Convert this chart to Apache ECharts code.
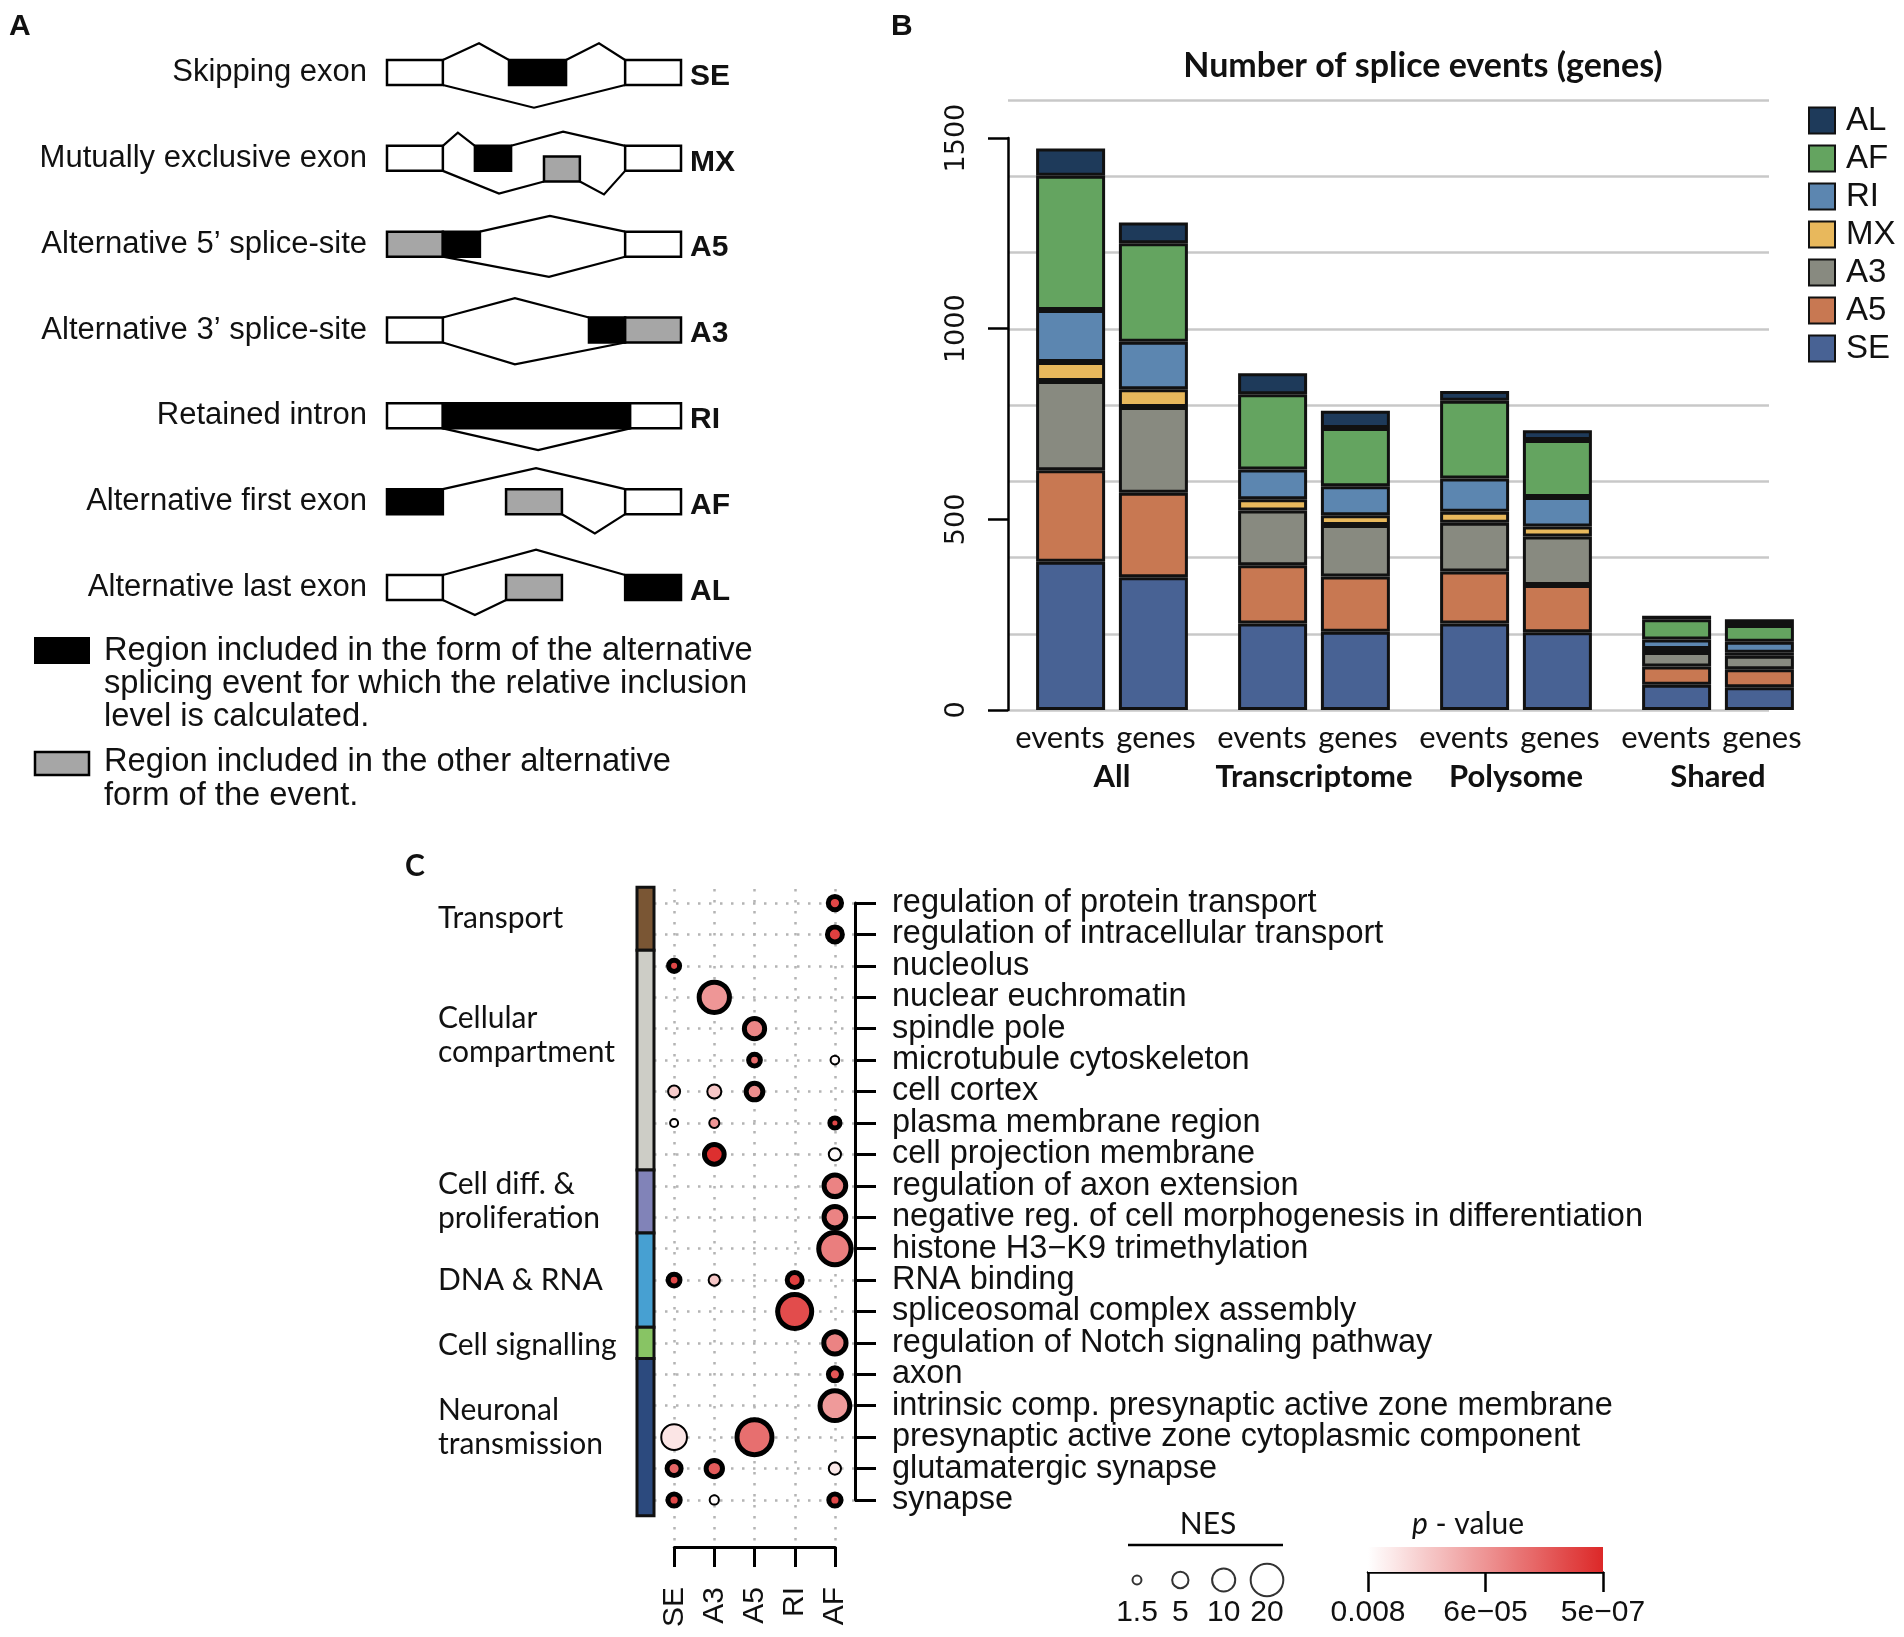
<!DOCTYPE html>
<html><head><meta charset="utf-8">
<script src="https://cdn.jsdelivr.net/npm/echarts@6/dist/echarts.min.js"></script>
<style>html,body{margin:0;padding:0;background:#fff}#main{width:1904px;height:1637px}</style>
</head><body><div id="main"></div>
<script>
// ================= Panel A : splice event schematic =================
const schemNames = ['Skipping exon','Mutually exclusive exon','Alternative 5\u2019 splice-site','Alternative 3\u2019 splice-site','Retained intron','Alternative first exon','Alternative last exon'];
const schemCodes = ['SE','MX','A5','A3','RI','AF','AL'];
// exon blocks in schematic units: [start, end, fill(w/k/g), vertical shift]
const schemExons = [
  [[0,19,'w',0],[41.5,60.9,'k',0],[81,100,'w',0]],
  [[0,19,'w',0],[29.9,42.2,'k',0],[53.4,65.6,'g',0.125],[81,100,'w',0]],
  [[0,19,'g',0],[19,31.6,'k',0],[81,100,'w',0]],
  [[0,19,'w',0],[68.7,81,'k',0],[81,100,'g',0]],
  [[0,19,'w',0],[19,82.7,'k',0],[82.7,100,'w',0]],
  [[0,19,'k',0],[40.5,59.5,'g',0],[81,100,'w',0]],
  [[0,19,'w',0],[40.5,59.5,'g',0],[81,100,'k',0]]
];
const H = 0.146;
const schemJunctions = [
  [[[19,-H],[31.3,-0.34],[41.5,-H]],[[60.9,-H],[72.1,-0.34],[81,-H]],[[19,H],[50,0.41],[81,H]]],
  [[[19,-H],[24.1,-0.30],[29.9,-H]],[[42.2,-H],[59.9,-0.31],[81,-H]],[[19,H],[38.1,0.41],[53.4,0.27]],[[65.6,0.27],[73.8,0.42],[81,H]]],
  [[[31.6,-H],[55.4,-0.33],[81,-H]],[[19,H],[55.1,0.38],[81,H]]],
  [[[19,-H],[43.5,-0.37],[68.7,-H]],[[19,H],[43.5,0.40],[81,H]]],
  [[[19,H],[51.4,0.40],[82.7,H]]],
  [[[19,-H],[50.7,-0.39],[81,-H]],[[59.5,H],[70.7,0.37],[81,H]]],
  [[[19,-H],[50.7,-0.44],[81,-H]],[[19,H],[29.9,0.32],[40.5,H]]]
];

// ================= Panel B : number of splice events =================
const groupsB = ['All','Transcriptome','Polysome','Shared'];
const typesB = ['SE','A5','A3','MX','RI','AF','AL'];
const seEvents = [389,227,227,66],  seGenes = [348,205,204,60];
const a5Events = [240,153,136,48],  a5Genes = [222,145,124,47];
const a3Events = [234,143,128,38],  a3Genes = [225,135,127,35];
const mxEvents = [50,30,29,8],      mxGenes = [46,26,26,8];
const riEvents = [136,78,87,25],    riGenes = [125,76,78,29];
const afEvents = [352,197,204,53],  afGenes = [258,153,149,44];
const alEvents = [72,55,26,9],      alGenes = [55,45,26,15];
const legendOrderB = ['AL','AF','RI','MX','A3','A5','SE'];

// ================= Panel C : GO enrichment bubbles =================
const goTerms = ['regulation of protein transport','regulation of intracellular transport','nucleolus','nuclear euchromatin','spindle pole','microtubule cytoskeleton','cell cortex','plasma membrane region','cell projection membrane','regulation of axon extension','negative reg. of cell morphogenesis in differentiation','histone H3\u2212K9 trimethylation','RNA binding','spliceosomal complex assembly','regulation of Notch signaling pathway','axon','intrinsic comp. presynaptic active zone membrane','presynaptic active zone cytoplasmic component','glutamatergic synapse','synapse'];
const goGroupNames = ['Transport','Cellular\ncompartment','Cell diff. &\nproliferation','DNA & RNA','Cell signalling','Neuronal\ntransmission'];
const goGroupSizes = [2,7,2,3,1,5];
const typesC = ['SE','A3','A5','RI','AF'];
const bubbleTerm = [0,1,2,3,4,5,5,6,6,6,7,7,7,8,8,9,10,11,12,12,12,13,14,15,16,17,17,18,18,18,19,19,19];
const bubbleType = ['AF','AF','SE','A3','A5','A5','AF','SE','A3','A5','SE','A3','AF','A3','AF','AF','AF','AF','SE','A3','RI','RI','AF','AF','AF','SE','A5','SE','A3','AF','SE','A3','AF'];
const bubbleNES  = [3.3,4.2,2.3,17.2,7.7,2.6,1.4,2.7,3.7,5.2,1.2,1.9,1.9,7.3,2.8,8.8,8.8,19.6,2.6,2.4,4.2,21.7,9.3,3.2,16.6,12.4,23,3.7,5.0,2.8,2.8,1.6,2.8];
const bubblePval = [2e-6,1.5e-6,2e-6,7e-5,3.5e-5,1e-5,0.006,8e-4,6.5e-4,5e-5,0.007,7e-5,2e-6,7e-7,0.006,3e-5,3e-5,2.4e-5,2e-6,6.5e-4,1.5e-6,2.5e-6,3e-5,4e-6,8.5e-5,2.5e-3,1.2e-5,8e-6,5e-6,3e-3,2e-6,0.007,2e-6];
const bubbleSig  = [1,1,1,1,1,1,0,0,0,1,0,0,1,1,0,1,1,1,1,0,1,1,1,1,1,0,1,1,1,0,1,0,1];
const nesLegend = [1.5,5,10,20];
const pTickLabels = ['0.008','6e\u221205','5e\u221207'];
const pMax = 0.008, pMin = 5e-7;

// ---------------- helpers / styles ----------------
const FONT_H = '"Liberation Sans", Arial, sans-serif';
const FONT_C = 'Lato, "Open Sans", sans-serif';
const colorsB = {SE:'#486294',A5:'#c87852',A3:'#888a80',MX:'#e8b85c',RI:'#5c86b0',AF:'#64a460',AL:'#1e3a5a'};
const dataB = {SE:[seEvents,seGenes],A5:[a5Events,a5Genes],A3:[a3Events,a3Genes],MX:[mxEvents,mxGenes],RI:[riEvents,riGenes],AF:[afEvents,afGenes],AL:[alEvents,alGenes]};
const groupColorsC = ['#7a5634','#cdcdc6','#8183b8','#47a0d2','#88c464','#2c4a7e'];
const groupLabelShift = [0,-25,0,0,2,-10];   // label layout tweak (px)
const fillA = {w:'#ffffff',k:'#000000',g:'#a6a6a6'};
const lpHi = Math.log10(pMax), lpLo = Math.log10(pMin);
function pT(p){ return Math.min(1, Math.max(0, (lpHi - Math.log10(p)) / (lpHi - lpLo))); }
function tColor(t){ return 'rgb(' + Math.round(255-35*t) + ',' + Math.round(255-215*t) + ',' + Math.round(255-215*t) + ')'; }
function nesSize(n){ return 7.3 * Math.sqrt(n); }
const DOT = {color:'#b4b4b4', width:2.5, type:[2.5,8.5]};

// ---------------- series ----------------
const series = [];
// Panel A schematic
series.push({
  type:'custom', xAxisIndex:0, yAxisIndex:0, silent:true,
  data: schemNames.map((_, i) => [i]),
  renderItem(params, api){
    const i = api.value(0);
    const ch = [];
    schemJunctions[i].forEach(pl => {
      ch.push({type:'polyline', shape:{points: pl.map(p => api.coord([p[0], i + p[1]]))}, style:{stroke:'#000', lineWidth:2.2, fill:null}});
    });
    schemExons[i].forEach(e => {
      const a = api.coord([e[0], i + e[3] - H]), b = api.coord([e[1], i + e[3] + H]);
      ch.push({type:'rect', shape:{x:a[0], y:a[1], width:b[0]-a[0], height:b[1]-a[1]}, style:{fill:fillA[e[2]], stroke:'#000', lineWidth:2.5}});
    });
    const l = api.coord([0, i]), r = api.coord([100, i]);
    ch.push({type:'text', x:l[0]-20, y:l[1], style:{text:schemNames[i], align:'right', verticalAlign:'middle', font:'31px ' + FONT_H, fill:'#111'}});
    ch.push({type:'text', x:r[0]+9, y:r[1]+4, style:{text:schemCodes[i], align:'left', verticalAlign:'middle', font:'bold 30px ' + FONT_H, fill:'#111'}});
    return {type:'group', children:ch};
  }
});
// Panel B stacked bars
['events','genes'].forEach((stk, si) => {
  typesB.forEach(t => {
    series.push({
      type:'bar', name:t, stack:stk, xAxisIndex:3, yAxisIndex:3,
      barWidth:69, barGap:'20%',
      data: dataB[t][si],
      itemStyle:{color:colorsB[t], borderColor:'#111', borderWidth:3}
    });
  });
});
// Panel C colour bar of GO groups
const groupSpans = [];
goGroupSizes.reduce((acc, s) => { groupSpans.push([acc, acc + s]); return acc + s; }, 0);
series.push({
  type:'custom', xAxisIndex:4, yAxisIndex:4, silent:true,
  data: groupSpans.map((s, k) => [s[0], s[1], k]),
  renderItem(params, api){
    const k = api.value(2);
    const t = api.coord([0, api.value(0)]), b = api.coord([0, api.value(1)]);
    const bw = api.size([1, 0])[0];
    return {type:'group', children:[
      {type:'rect', shape:{x:t[0]-bw/2, y:t[1], width:bw, height:b[1]-t[1]}, style:{fill:groupColorsC[k], stroke:'#111', lineWidth:3}},
      {type:'text', x:t[0]-bw/2-199, y:(t[1]+b[1])/2 + groupLabelShift[k], style:{text:goGroupNames[k], align:'left', verticalAlign:'middle', font:'30px ' + FONT_C, lineHeight:34, fill:'#111'}}
    ]};
  }
});
// Panel C bubbles
series.push({
  type:'scatter', xAxisIndex:5, yAxisIndex:5, symbol:'circle',
  symbolSize: v => nesSize(v[2]),
  data: bubbleTerm.map((r, i) => ({
    value:[typesC.indexOf(bubbleType[i]), r, bubbleNES[i], bubblePval[i], bubbleSig[i]],
    itemStyle:{color:tColor(pT(bubblePval[i])), borderColor:'#000', borderWidth: bubbleSig[i] ? 5 : 2, opacity:1}
  })),
  z:5
});
// p-value colour legend
series.push({
  type:'custom', xAxisIndex:8, yAxisIndex:8, silent:true,
  data:[[0]],
  renderItem(params, api){
    const a = api.coord([0, 1]), b = api.coord([2, 0]);
    const stops = [];
    for (let k = 0; k <= 20; k++) stops.push({offset:k/20, color:tColor(k/20)});
    return {type:'rect', shape:{x:a[0], y:a[1], width:b[0]-a[0], height:b[1]-a[1]},
      style:{fill:{type:'linear', x:0, y:0, x2:1, y2:0, colorStops:stops}}};
  }
});
// NES size legend
series.push({
  type:'scatter', xAxisIndex:9, yAxisIndex:9, symbol:'circle',
  symbolSize: v => nesSize(v[2]),
  data: nesLegend.map((n, i) => [i, 0, n]),
  itemStyle:{color:'#fff', borderColor:'#000', borderWidth:2}
});

const hiddenVal = (min, max, extra) => Object.assign({type:'value', show:false, min, max}, extra || {});

const option = {
  backgroundColor:'#fff',
  animation:false,
  grid:[
    {left:387, top:29.6, width:294, height:600.8},     // 0 A
    {left:1008, top:100, width:761, height:610},        // 1 B gridlines
    {left:1008, top:138.1, width:1, height:571.9},      // 2 B axis
    {left:1011, top:100, width:808, height:610},        // 3 B bars
    {left:637, top:887.3, width:17, height:628.4},      // 4 C colour bar
    {left:654, top:887.3, width:201, height:628.4},     // 5 C bubbles
    {left:674.3, top:889, width:160.8, height:658},     // 6 C bottom axis
    {left:654, top:903, width:201, height:597},         // 7 C right axis
    {left:1368, top:1547, width:235, height:25},        // 8 p legend
    {left:1137, top:1560, width:130, height:40}         // 9 NES legend
  ],
  xAxis:[
    hiddenVal(0,100,{gridIndex:0}),
    hiddenVal(0,1,{gridIndex:1}),
    hiddenVal(0,1,{gridIndex:2}),
    {type:'category', gridIndex:3, data:groupsB, axisLine:{show:false}, axisTick:{show:false},
      axisLabel:{margin:8, interval:0,
        formatter: v => '{e|events}{g|genes}\n{b|' + v + '}',
        rich:{
          e:{width:88, align:'center', fontSize:31, fontFamily:FONT_C, color:'#111', lineHeight:39},
          g:{width:104, align:'center', fontSize:31, fontFamily:FONT_C, color:'#111', lineHeight:39},
          b:{width:192, align:'center', fontSize:31, fontWeight:'bold', fontFamily:FONT_C, color:'#111', lineHeight:39}
        }}},
    {type:'category', gridIndex:4, data:['g'], show:false},
    {type:'category', gridIndex:5, data:typesC, show:false, boundaryGap:true},
    {type:'category', gridIndex:6, data:typesC, boundaryGap:false,
      axisLine:{onZero:false, lineStyle:{color:'#000', width:3}},
      axisTick:{length:20, lineStyle:{color:'#000', width:3}, interval:0},
      axisLabel:{rotate:90, margin:40, fontSize:30, fontFamily:FONT_H, color:'#111', interval:0},
      splitLine:{show:true, interval:0, lineStyle:DOT}},
    hiddenVal(0,1,{gridIndex:7}),
    {type:'value', gridIndex:8, min:0, max:2, interval:1,
      axisLine:{onZero:false, lineStyle:{color:'#000', width:2.5}},
      axisTick:{length:20, lineStyle:{color:'#000', width:2.5}},
      axisLabel:{margin:41, verticalAlign:'middle', fontSize:30, fontFamily:FONT_H, color:'#111', formatter: v => pTickLabels[v]},
      splitLine:{show:false}},
    {type:'category', gridIndex:9, data:nesLegend.map(String), boundaryGap:false,
      axisLine:{show:false}, axisTick:{show:false},
      axisLabel:{margin:13, verticalAlign:'middle', fontSize:30, fontFamily:FONT_H, color:'#111', interval:0}}
  ],
  yAxis:[
    hiddenVal(-0.5,6.5,{gridIndex:0, inverse:true}),
    {type:'value', gridIndex:1, min:0, max:1600, interval:200, axisLine:{show:false}, axisTick:{show:false}, axisLabel:{show:false},
      splitLine:{show:true, lineStyle:{color:'#c8c8c8', width:2.5}}},
    {type:'value', gridIndex:2, min:0, max:1500, interval:500,
      axisLine:{show:true, onZero:false, lineStyle:{color:'#000', width:2.5}},
      axisTick:{show:true, length:20, lineStyle:{color:'#000', width:2.5}},
      axisLabel:{rotate:90, margin:38, fontSize:27, fontFamily:'"DejaVu Sans", sans-serif', color:'#111', formatter: v => String(v)},
      splitLine:{show:false}},
    hiddenVal(0,1600,{gridIndex:3}),
    hiddenVal(0,20,{gridIndex:4, inverse:true}),
    {type:'category', gridIndex:5, data:goTerms, inverse:true, show:false, boundaryGap:true},
    hiddenVal(0,1,{gridIndex:6}),
    {type:'category', gridIndex:7, data:goTerms, inverse:true, boundaryGap:false, position:'right',
      axisLine:{onZero:false, lineStyle:{color:'#000', width:3}},
      axisTick:{length:21, interval:0, lineStyle:{color:'#000', width:3}},
      axisLabel:{margin:37, interval:0, fontSize:32.5, fontFamily:FONT_H, color:'#111'},
      splitLine:{show:true, interval:0, lineStyle:DOT}},
    hiddenVal(0,1,{gridIndex:8}),
    hiddenVal(-1,1,{gridIndex:9})
  ],
  legend:{
    data:legendOrderB, orient:'vertical', left:1803, top:99, icon:'rect',
    itemWidth:26, itemHeight:26, itemGap:5, selectedMode:false,
    textStyle:{fontSize:33, fontFamily:FONT_H, color:'#111', padding:[0,0,0,6]}
  },
  graphic:[
    {type:'text', x:9, y:27, style:{text:'A', font:'bold 30px ' + FONT_H, verticalAlign:'middle', fill:'#111'}},
    {type:'text', x:891, y:27, style:{text:'B', font:'bold 30px ' + FONT_H, verticalAlign:'middle', fill:'#111'}},
    {type:'text', x:405, y:866, style:{text:'C', font:'bold 30px ' + FONT_C, verticalAlign:'middle', fill:'#111'}},
    {type:'text', x:1423, y:66, style:{text:'Number of splice events (genes)', font:'bold 34px ' + FONT_C, align:'center', verticalAlign:'middle', fill:'#111'}},
    {type:'rect', shape:{x:35, y:638, width:54, height:25}, style:{fill:'#000', stroke:'#000', lineWidth:2}},
    {type:'text', x:104, y:634.5, style:{text:'Region included in the form of the alternative\nsplicing event for which the relative inclusion\nlevel is calculated.', font:'32.7px ' + FONT_H, lineHeight:33, verticalAlign:'top', fill:'#111'}},
    {type:'rect', shape:{x:35, y:752, width:54, height:23}, style:{fill:'#a6a6a6', stroke:'#000', lineWidth:2.5}},
    {type:'text', x:104, y:745, style:{text:'Region included in the other alternative\nform of the event.', font:'32.7px ' + FONT_H, lineHeight:34, verticalAlign:'top', fill:'#111'}},
    {type:'text', x:1208, y:1524, style:{text:'NES', font:'30px ' + FONT_C, align:'center', verticalAlign:'middle', fill:'#111'}},
    {type:'line', shape:{x1:1128, y1:1545, x2:1283, y2:1545}, style:{stroke:'#000', lineWidth:2.5}},
    {type:'text', x:1468, y:1524, style:{text:'{i|p} - value', font:'30px ' + FONT_C, align:'center', verticalAlign:'middle', fill:'#111',
      rich:{i:{fontStyle:'italic', fontSize:30, fontFamily:FONT_C}}}}
  ],
  series
};
const chart = echarts.init(document.getElementById('main'));
chart.setOption(option);
</script></body></html>
